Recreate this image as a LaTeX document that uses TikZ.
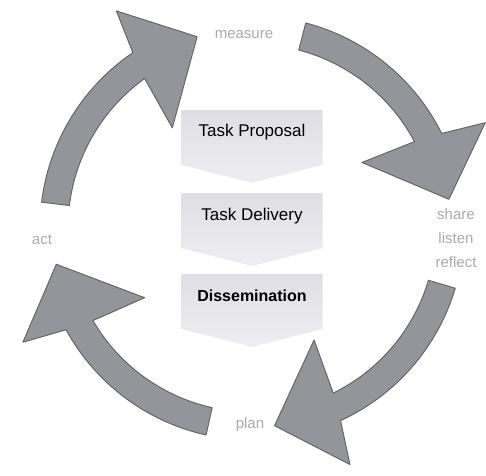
\documentclass[tikz,border=0pt]{standalone}
\usepackage{fontspec}
\setmainfont{Liberation Sans}
\definecolor{arrfill}{RGB}{148,148,155}
\definecolor{arredge}{RGB}{95,95,100}
\definecolor{boxtop}{RGB}{222,222,228}
\definecolor{boxbot}{RGB}{238,238,242}
\definecolor{lbl}{RGB}{170,170,170}
\newcommand{\cycarrow}[1]{%
  \pgfmathsetmacro{\ta}{#1}%
  \pgfmathsetmacro{\tb}{#1-48.8}%
  \pgfmathsetmacro{\tc}{#1-51}%
  \pgfmathsetmacro{\td}{#1-67}%
  \pgfmathsetmacro{\te}{#1-44.5}%
  \pgfmathsetmacro{\tf}{#1-47.3}%
  \draw[cyc] (\ta:212pt) arc[start angle=\ta, end angle=\tb, radius=212pt]
    -- (\tc:256pt) -- (\td:199pt) -- (\te:128pt) -- (\tf:184pt)
    arc[start angle=\tf, end angle=\ta, radius=184pt] -- cycle;}
\newcommand{\chevbox}[1]{%
  \pgfmathsetmacro{\ya}{#1}%
  \pgfmathsetmacro{\yb}{#1-55}%
  \pgfmathsetmacro{\yc}{#1-73}%
  \path[chev] (-70.5pt,\ya pt) -- (70.5pt,\ya pt) -- (70.5pt,\yb pt)
    -- (0pt,\yc pt) -- (-70.5pt,\yb pt) -- cycle;}
\begin{document}
\begin{tikzpicture}[
  cyc/.style={fill=arrfill, draw=arredge, line width=0.9pt, line join=round},
  chev/.style={top color=boxtop, bottom color=boxbot},
  boxtext/.style={font=\fontsize{17}{20}\selectfont, text=black, inner sep=0pt},
  cyclbl/.style={font=\fontsize{15}{24}\selectfont, text=lbl, align=center, inner sep=0pt}
]
\useasboundingbox (-252pt,-247pt) rectangle (234pt,228pt);
\cycarrow{75.3}
\cycarrow{-16.5}
\cycarrow{257.5}
\cycarrow{173}
\chevbox{118}
\chevbox{35}
\chevbox{-46}
\node[boxtext] (tp) at (0pt,96pt) {Task Proposal};
\node[boxtext] (td) at (0pt,12pt) {Task Delivery};
\node[boxtext, font=\fontsize{16}{19}\selectfont\bfseries] (ds) at (0pt,-68pt) {Dissemination};
\node[cyclbl] (measure) at (-8pt,193pt) {measure};
\node[cyclbl] (act) at (-210pt,-12pt) {act};
\node[cyclbl] (share) at (204pt,-10pt) {share\\listen\\reflect};
\node[cyclbl] (plan) at (-2pt,-197pt) {plan};
\end{tikzpicture}
\end{document}
